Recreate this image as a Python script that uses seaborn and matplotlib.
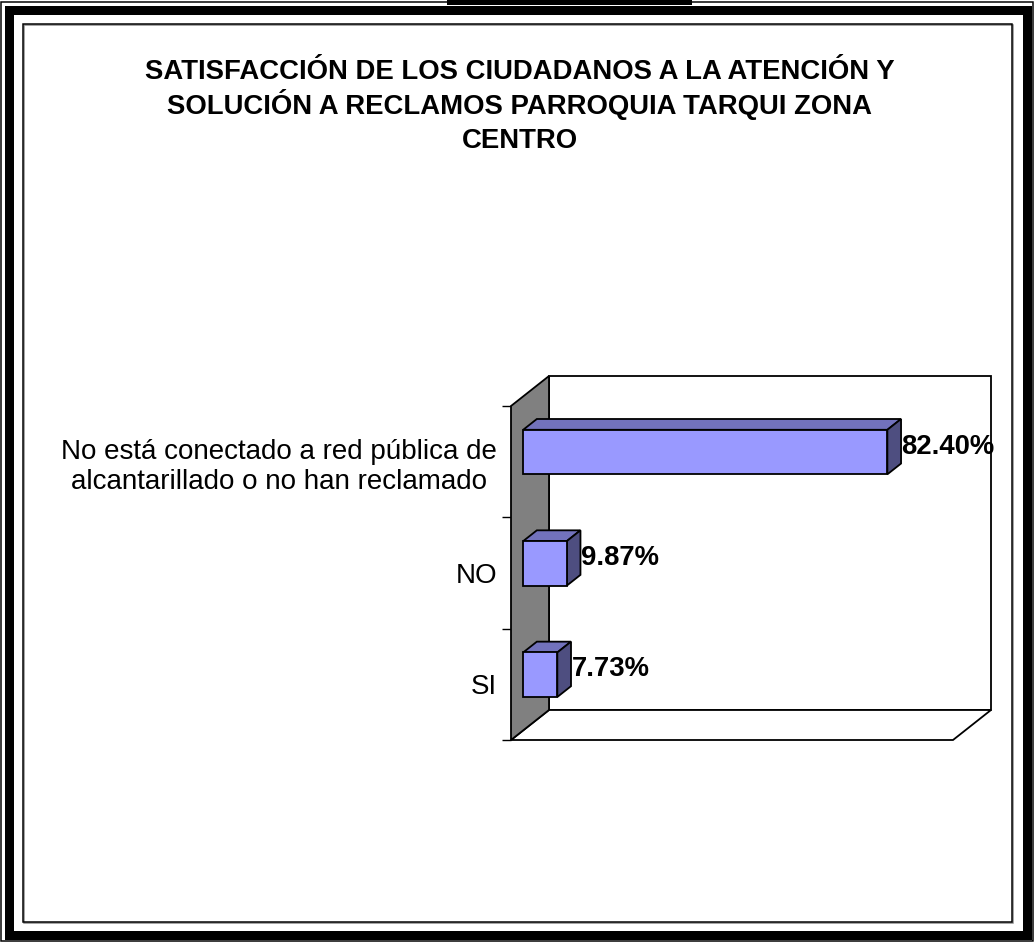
import matplotlib
matplotlib.use("Agg")
import matplotlib.pyplot as plt
from matplotlib.patches import Rectangle, Polygon
import seaborn as sns

# datos
categorias = ["No está conectado a red pública de\nalcantarillado o no han reclamado", "NO", "SI"]
porcentajes = [82.40, 9.87, 7.73]
titulo = ["SATISFACCIÓN DE LOS CIUDADANOS A LA ATENCIÓN Y",
          "SOLUCIÓN A RECLAMOS PARROQUIA TARQUI ZONA",
          "CENTRO"]

sns.set_style("white")
plt.rcParams['font.family'] = ['Liberation Sans', 'DejaVu Sans']
plt.rcParams['text.color'] = 'black'
plt.rcParams['ytick.color'] = 'black'
plt.rcParams['ytick.labelcolor'] = 'black'

W, H = 1034, 942
fig = plt.figure(figsize=(W / 100, H / 100), dpi=100)


def fx(px):
    return px / W


def fy(py):
    return 1 - py / H


def frame_rect(x0, y0, x1, y1, lw_px, color='black', fill=False):
    r = Rectangle((fx(x0), fy(y1)), fx(x1) - fx(x0), fy(y0) - fy(y1),
                  transform=fig.transFigure, fill=fill, facecolor=color,
                  edgecolor=color, linewidth=lw_px * 0.72)
    fig.add_artist(r)


# marco exterior (doble linea) y cuadro interior
frame_rect(1, 1.5, 1032.5, 940.5, 1.5)
frame_rect(9, 9.5, 1026.5, 934.5, 9)
frame_rect(447, 0, 692, 5, 0, fill=True)
frame_rect(23.5, 24.5, 1012.5, 922.5, 1.5, color='#888888')
frame_rect(22.5, 23.5, 1011.5, 921.5, 1.5, color='black')

# titulo, una linea por renglon
for i, linea in enumerate(titulo):
    fig.text(fx(519.5), fy(79 + 34.5 * i), linea, ha='center', va='baseline',
             fontsize=19.8, fontweight='bold', color='black')

# ejes = plano frontal del grafico 3D
ax = fig.add_axes([fx(511), fy(740), 442 / W, 334 / H])
ax.set_facecolor('none')

sns.barplot(x=porcentajes, y=categorias, orient='h', color='#9999FF',
            saturation=1, width=0.4, edgecolor='black', linewidth=1.3, ax=ax)

ax.set_xlim(0, 100)
ax.set_ylim(2.5, -0.5)

# proyeccion oblicua: profundidad en unidades de datos
KX = 38 / 4.42
KY = 30 / 111.3
d0, d1 = 0.32, 0.68


def proj(x, y, d):
    return (x + d * KX, y - d * KY)


n = len(categorias)
yb, yt = n - 0.5, -0.5
pared = [proj(0, yb, 0), proj(0, yt, 0), proj(0, yt, 1), proj(0, yb, 1)]
fondo = [proj(0, yb, 1), proj(0, yt, 1), proj(100, yt, 1), proj(100, yb, 1)]
piso = [proj(0, yb, 0), proj(100, yb, 0), proj(100, yb, 1), proj(0, yb, 1)]
ax.add_patch(Polygon(fondo, closed=True, facecolor='white', edgecolor='black',
                     linewidth=1.3, clip_on=False, zorder=0.5))
ax.add_patch(Polygon(piso, closed=True, facecolor='white', edgecolor='black',
                     linewidth=1.3, clip_on=False, zorder=0.6))
ax.add_patch(Polygon(pared, closed=True, facecolor='#808080', edgecolor='black',
                     linewidth=1.3, clip_on=False, zorder=0.7))

ddx, ddy = (d1 - d0) * KX, -(d1 - d0) * KY
for patch, val in zip(ax.patches[:n], porcentajes):
    patch.set_x(patch.get_x() + d0 * KX)
    patch.set_y(patch.get_y() - d0 * KY)
    patch.set_clip_on(False)
    patch.set_zorder(3)
    x0, y0 = patch.get_x(), patch.get_y()
    w, h = patch.get_width(), patch.get_height()
    arriba = [(x0, y0), (x0 + w, y0), (x0 + w + ddx, y0 + ddy), (x0 + ddx, y0 + ddy)]
    lado = [(x0 + w, y0), (x0 + w, y0 + h), (x0 + w + ddx, y0 + h + ddy), (x0 + w + ddx, y0 + ddy)]
    ax.add_patch(Polygon(arriba, closed=True, facecolor='#7272BC', edgecolor='black',
                         linewidth=1.3, clip_on=False, zorder=2.5))
    ax.add_patch(Polygon(lado, closed=True, facecolor='#4E4E80', edgecolor='black',
                         linewidth=1.3, clip_on=False, zorder=2.5))
    ax.text(x0 + w + ddx + 0.1, y0 + h / 2 + 0.5 * ddy, f"{val:.2f}%", ha='left',
            va='center', fontsize=19.8, fontweight='bold', color='black', zorder=4)

for s in ax.spines.values():
    s.set_visible(False)
ax.set_xticks([])
ax.set_xlabel('')
ax.set_ylabel('')
ax.set_yticks(range(n))
ax.set_yticklabels(categorias, fontsize=20, multialignment='center', color='black')
ax.set_yticks([-0.5 + i for i in range(n + 1)], minor=True)
ax.tick_params(axis='y', which='major', length=0, pad=10)
ax.tick_params(axis='y', which='minor', length=6.5, width=1, color='black', left=True)

fig.savefig('out.png', dpi=100)
